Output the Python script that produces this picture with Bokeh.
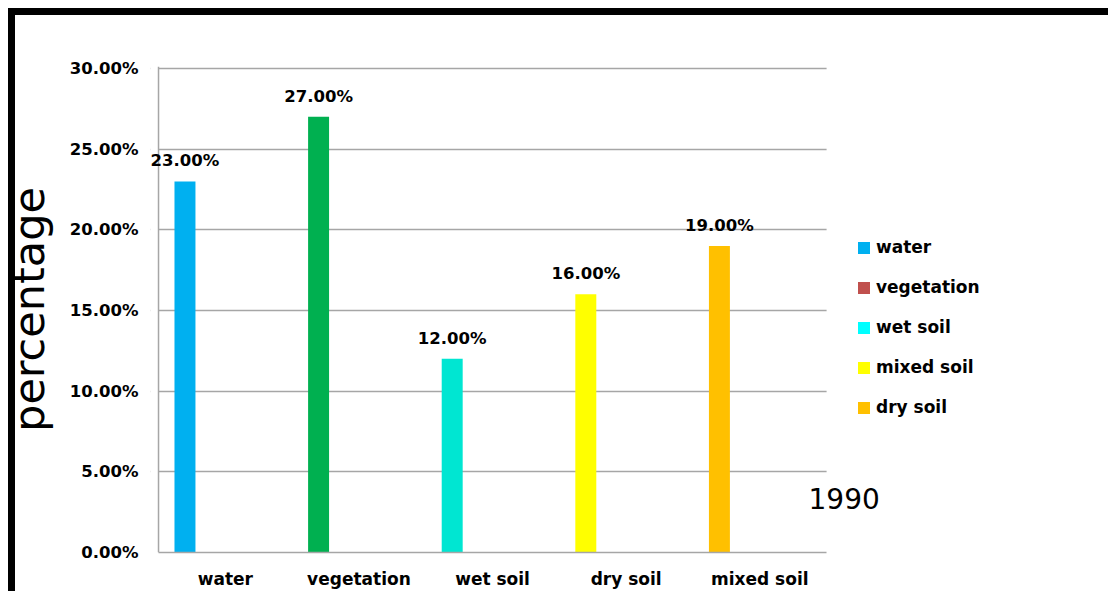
from bokeh.plotting import figure
from bokeh.models import (Range1d, FixedTicker, PrintfTickFormatter, Label,
                          ColumnDataSource, Legend, LegendItem, LabelSet, BoxAnnotation, Span)
from bokeh.core.properties import value
from bokeh.embed import file_html
from bokeh.resources import INLINE

# ---- data ----
categories = ["water", "vegetation", "wet soil", "dry soil", "mixed soil"]
values = [23.0, 27.0, 12.0, 16.0, 19.0]
bar_colors = ["#00b0f0", "#00b050", "#00e6d2", "#ffff00", "#ffc000"]
legend_labels = ["water", "vegetation", "wet soil", "mixed soil", "dry soil"]
legend_colors = ["#00b0f0", "#c0504d", "#00ffff", "#ffff00", "#ffc000"]
y_ticks = [0, 5, 10, 15, 20, 25, 30]
year_label = "1990"
y_title = "percentage"

# ---- style / layout constants ----
GRID = "#a6a6a6"
FONT = "DejaVu Sans"
BAR_OFFSET = 0.198     # bar centre inside each category slot (slot width = 1)
BAR_WIDTH = 0.157
X_START, X_END = -0.06, 7.11   # category slots occupy 0..5, the rest is side space
Y_END = 30.12

N = len(categories)
xs = [i + BAR_OFFSET for i in range(N)]
source = ColumnDataSource(dict(
    x=xs, cat=categories, val=values, color=bar_colors,
    label=["%.2f%%" % v for v in values],
))

p = figure(width=1108, height=591, x_range=Range1d(X_START, X_END),
           y_range=Range1d(0, Y_END), output_backend="svg", toolbar_location=None,
           min_border_left=150, min_border_right=0, min_border_top=66,
           min_border_bottom=39, background_fill_color=None,
           border_fill_color=None, outline_line_color=None,
           styles={"background": "linear-gradient(#000,#000) 8px 8px / 100% 7px no-repeat, "
                                 "linear-gradient(#000,#000) 8px 8px / 7px 100% no-repeat, #fff"})

p.vbar(x="x", top="val", width=BAR_WIDTH, fill_color="color", line_color=None,
       source=source)

# grid, limited to the category slots by white masks on both sides
p.xgrid.grid_line_color = None
p.ygrid.ticker = FixedTicker(ticks=y_ticks)
p.ygrid.grid_line_color = GRID
p.ygrid.grid_line_width = 1.5
p.add_layout(BoxAnnotation(right=0, fill_color="white", fill_alpha=1,
                           line_color=None, level="glyph"))
p.add_layout(BoxAnnotation(left=N, fill_color="white", fill_alpha=1,
                           line_color=None, level="glyph"))
# value axis line at x = 0
p.add_layout(Span(location=0, dimension="height", line_color=GRID, line_width=1.5))

# value labels
p.add_layout(LabelSet(x="x", y="val", text="label", source=source,
                      text_align="center", text_baseline="alphabetic",
                      y_offset=15, text_font=value(FONT), text_font_style="bold",
                      text_font_size="16.5px", text_color="black"))

# y axis
p.yaxis.ticker = FixedTicker(ticks=y_ticks)
p.yaxis.formatter = PrintfTickFormatter(format="%.2f%%")
p.yaxis.major_tick_line_color = None
p.yaxis.major_tick_out = 0
p.yaxis.major_tick_in = 0
p.yaxis.minor_tick_line_color = None
p.yaxis.axis_line_color = None
p.yaxis.major_label_standoff = 12
p.yaxis.major_label_text_font = FONT
p.yaxis.major_label_text_font_style = "bold"
p.yaxis.major_label_text_font_size = "16.5px"
p.yaxis.major_label_text_color = "black"
p.yaxis.axis_label = y_title
p.yaxis.axis_label_text_font = FONT
p.yaxis.axis_label_text_font_style = "normal"
p.yaxis.axis_label_text_font_size = "43px"
p.yaxis.axis_label_text_color = "black"
p.yaxis.axis_label_standoff = 13

# x axis (category names)
p.xaxis.ticker = FixedTicker(ticks=[i + 0.5 for i in range(N)])
p.xaxis.major_label_overrides = {i + 0.5: c for i, c in enumerate(categories)}
p.xaxis.bounds = (0, N)
p.xaxis.major_tick_line_color = None
p.xaxis.major_tick_out = 0
p.xaxis.major_tick_in = 0
p.xaxis.minor_tick_line_color = None
p.xaxis.axis_line_color = GRID
p.xaxis.axis_line_width = 1.5
p.xaxis.major_label_standoff = 16
p.xaxis.major_label_text_font = FONT
p.xaxis.major_label_text_font_style = "bold"
p.xaxis.major_label_text_font_size = "17px"
p.xaxis.major_label_text_color = "black"

# "1990" caption
p.add_layout(Label(x=808, y=498, x_units="canvas", y_units="canvas", text=year_label,
                   text_font=FONT, text_font_size="28px",
                   text_baseline="alphabetic", text_color="black"))

# legend (entries use their own colours)
nan = float("nan")
items = []
for lab, col in zip(legend_labels, legend_colors):
    r = p.vbar(x=[nan], top=[nan], width=0.1, fill_color=col, line_color=None)
    items.append(LegendItem(label=lab, renderers=[r]))
legend = Legend(items=items, location=(706, 135), orientation="vertical",
                glyph_width=15, glyph_height=15, label_height=15,
                label_standoff=5, spacing=20, padding=0, margin=0,
                border_line_color=None, background_fill_alpha=0,
                label_text_font=FONT, label_text_font_style="bold",
                label_text_font_size="17px", label_text_color="black",
                label_text_baseline="middle")
p.add_layout(legend, "center")

open("out.html", "w").write(file_html(p, INLINE))
